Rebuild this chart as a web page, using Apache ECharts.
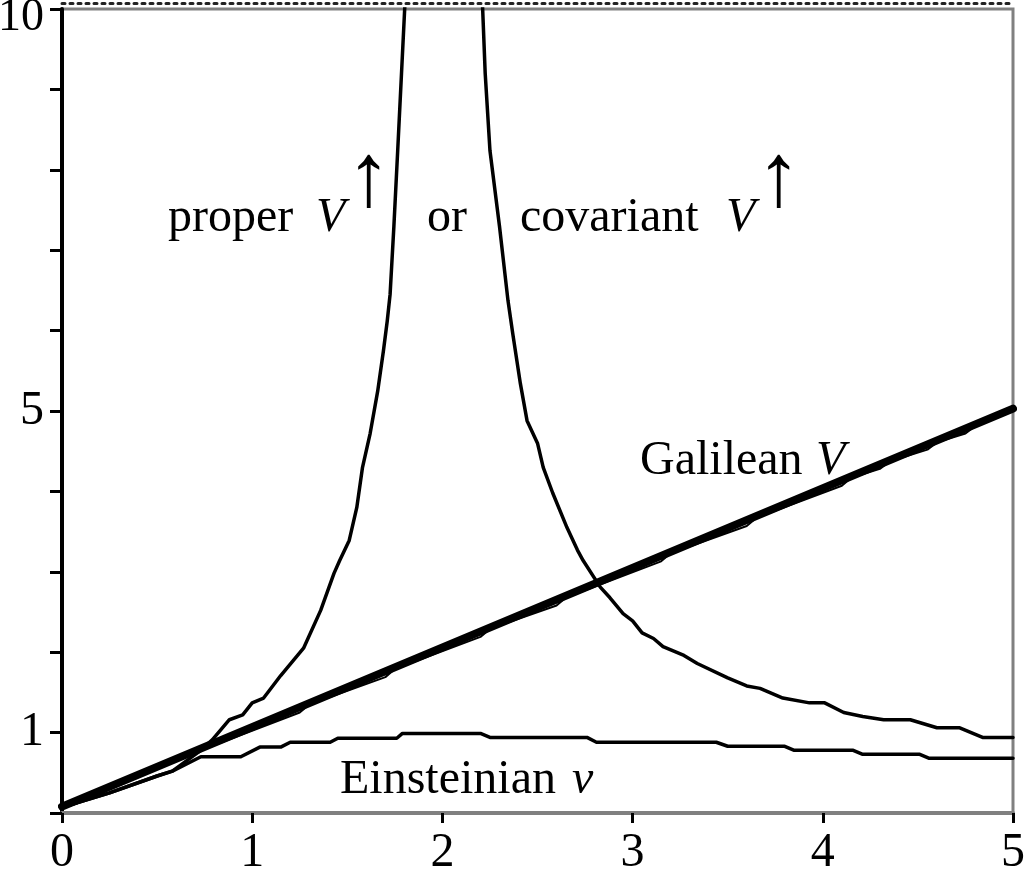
<!DOCTYPE html>
<html>
<head>
<meta charset="utf-8">
<script src="https://cdn.jsdelivr.net/npm/echarts@6/dist/echarts.min.js"></script>
<style>
  html, body { margin: 0; padding: 0; background: #fff; }
  #main { width: 1024px; height: 874px; }
</style>
</head>
<body>
<div id="main"></div>
<script>
// values
var xTicks = [0, 1, 2, 3, 4, 5];
var yLabels = [1, 5, 10];

var galileanX = [0, 5];
var galileanV = [0.08, 5.03];

// thin stepped line running just under the Galilean line
var galileanNumX = [0.73, 1.25, 1.3, 1.7, 1.75, 2.2, 2.25, 2.6, 2.65, 3.15, 3.2, 3.6, 3.65, 4.1, 4.15, 4.3, 4.35, 4.55, 4.6, 4.75, 4.8, 5];
var galileanNumV = [0.78, 1.25, 1.35, 1.69, 1.79, 2.19, 2.29, 2.58, 2.68, 3.13, 3.23, 3.57, 3.67, 4.07, 4.17, 4.28, 4.37, 4.52, 4.61, 4.72, 4.81, 5.0];

var properX = [0, 0.25, 0.5, 0.58, 0.73, 0.79, 0.88, 0.95, 1.0, 1.06, 1.15, 1.27, 1.36, 1.43, 1.46, 1.51, 1.55, 1.58, 1.62, 1.66, 1.69, 1.71, 1.725, 1.745, 1.765, 1.785, 1.81];
var properV = [0.07, 0.25, 0.46, 0.52, 0.78, 0.91, 1.16, 1.22, 1.37, 1.43, 1.71, 2.05, 2.52, 2.98, 3.14, 3.39, 3.80, 4.30, 4.72, 5.25, 5.75, 6.12, 6.45, 7.30, 8.24, 9.2, 10.4];

var covariantX = [2.205, 2.225, 2.25, 2.30, 2.345, 2.37, 2.41, 2.445, 2.50, 2.53, 2.58, 2.655, 2.71, 2.74, 2.83, 2.88, 2.95, 3.00, 3.05, 3.11, 3.16, 3.27, 3.34, 3.50, 3.60, 3.67, 3.79, 3.93, 4.01, 4.11, 4.21, 4.32, 4.46, 4.60, 4.72, 4.84, 5.0];
var covariantV = [10.4, 9.2, 8.24, 7.30, 6.37, 5.96, 5.34, 4.88, 4.60, 4.30, 3.98, 3.55, 3.27, 3.14, 2.81, 2.68, 2.48, 2.39, 2.24, 2.17, 2.07, 1.96, 1.86, 1.68, 1.58, 1.55, 1.43, 1.37, 1.37, 1.25, 1.20, 1.16, 1.16, 1.06, 1.06, 0.94, 0.94];

var einsteinX = [0, 0.25, 0.5, 0.58, 0.73, 0.94, 1.04, 1.15, 1.20, 1.41, 1.45, 1.76, 1.79, 2.20, 2.25, 2.76, 2.81, 3.44, 3.50, 3.80, 3.85, 4.16, 4.21, 4.51, 4.56, 5.0];
var einsteinV = [0.07, 0.25, 0.46, 0.52, 0.70, 0.70, 0.82, 0.82, 0.88, 0.88, 0.93, 0.93, 0.99, 0.99, 0.94, 0.94, 0.88, 0.88, 0.83, 0.83, 0.78, 0.78, 0.73, 0.73, 0.68, 0.68];

var FONT = "'Liberation Serif', 'DejaVu Serif', serif";

function pairs(xs, ys) {
  var out = [];
  for (var i = 0; i < xs.length; i++) out.push([xs[i], ys[i]]);
  return out;
}

function curve(name, xs, ys, width) {
  return {
    name: name,
    type: 'line',
    data: pairs(xs, ys),
    showSymbol: false,
    clip: true,
    silent: true,
    lineStyle: { color: '#000', width: width, join: 'round', cap: 'round' }
  };
}

function label(text, x, y, italic, size) {
  return {
    type: 'text',
    x: x,
    y: y,
    silent: true,
    style: {
      text: text,
      fill: '#000',
      font: (italic ? 'italic ' : '') + (size || 48) + 'px ' + FONT,
      textAlign: 'left',
      textVerticalAlign: 'bottom'
    }
  };
}

var chart = echarts.init(document.getElementById('main'), null, { renderer: 'canvas' });

var option = {
  backgroundColor: '#FFFFFF',
  animation: false,
  grid: {
    left: 62,
    right: 11,
    top: 9,
    bottom: 61,
    outerBoundsMode: 'none',
    containLabel: false,
    show: true,
    borderColor: '#808080',
    borderWidth: 3
  },
  xAxis: [
    {
      type: 'value',
      min: xTicks[0],
      max: xTicks[xTicks.length - 1],
      interval: 1,
      position: 'bottom',
      axisLine: { show: true, lineStyle: { color: '#808080', width: 4 } },
      axisTick: { show: true, length: 10, lineStyle: { color: '#000', width: 3 } },
      axisLabel: { color: '#000', fontSize: 48, fontFamily: FONT, margin: 16 },
      splitLine: { show: false }
    },
    {
      // dotted rule above the top frame
      type: 'value',
      min: 0,
      max: 5,
      position: 'top',
      offset: 6,
      axisLine: { show: true, lineStyle: { color: '#222', width: 3, type: [3, 5] } },
      axisTick: { show: false },
      axisLabel: { show: false },
      splitLine: { show: false }
    }
  ],
  yAxis: {
    type: 'value',
    min: 0,
    max: 10,
    interval: 1,
    axisLine: { show: true, lineStyle: { color: '#000', width: 4 } },
    axisTick: { show: true, length: 12, lineStyle: { color: '#000', width: 3 } },
    axisLabel: {
      color: '#000',
      fontSize: 48,
      fontFamily: FONT,
      margin: 18,
      formatter: function (v) {
        // the top label sits a little lower than its tick
        if (v === 10) return '{gap| }\n{top|10}';
        if (yLabels.indexOf(v) >= 0) return '{n|' + v + '}';
        return '';
      },
      rich: {
        gap: { fontSize: 10, lineHeight: 18 },
        top: { fontSize: 46, lineHeight: 48, fontFamily: FONT, color: '#000' },
        n: { fontSize: 48, fontFamily: FONT, color: '#000' }
      }
    },
    splitLine: { show: false }
  },
  series: [
    curve('Galilean V', galileanX, galileanV, 8),
    curve('numerical V', galileanNumX, galileanNumV, 2),
    curve('proper V', properX, properV, 3.5),
    curve('covariant V', covariantX, covariantV, 3.5),
    curve('Einsteinian v', einsteinX, einsteinV, 3.5)
  ],
  graphic: [
    label('proper', 168, 242, false),
    label('V', 316, 242, true),
    label('\u2191', 346, 226, false, 90),
    label('or', 427, 242, false),
    label('covariant', 520, 242, false),
    label('V', 726, 242, true),
    label('\u2191', 756, 226, false, 90),
    label('Galilean', 640, 485, false),
    label('V', 816, 485, true),
    label('Einsteinian', 340, 804, false),
    label('v', 572, 804, true)
  ]
};

chart.setOption(option);
</script>
</body>
</html>
